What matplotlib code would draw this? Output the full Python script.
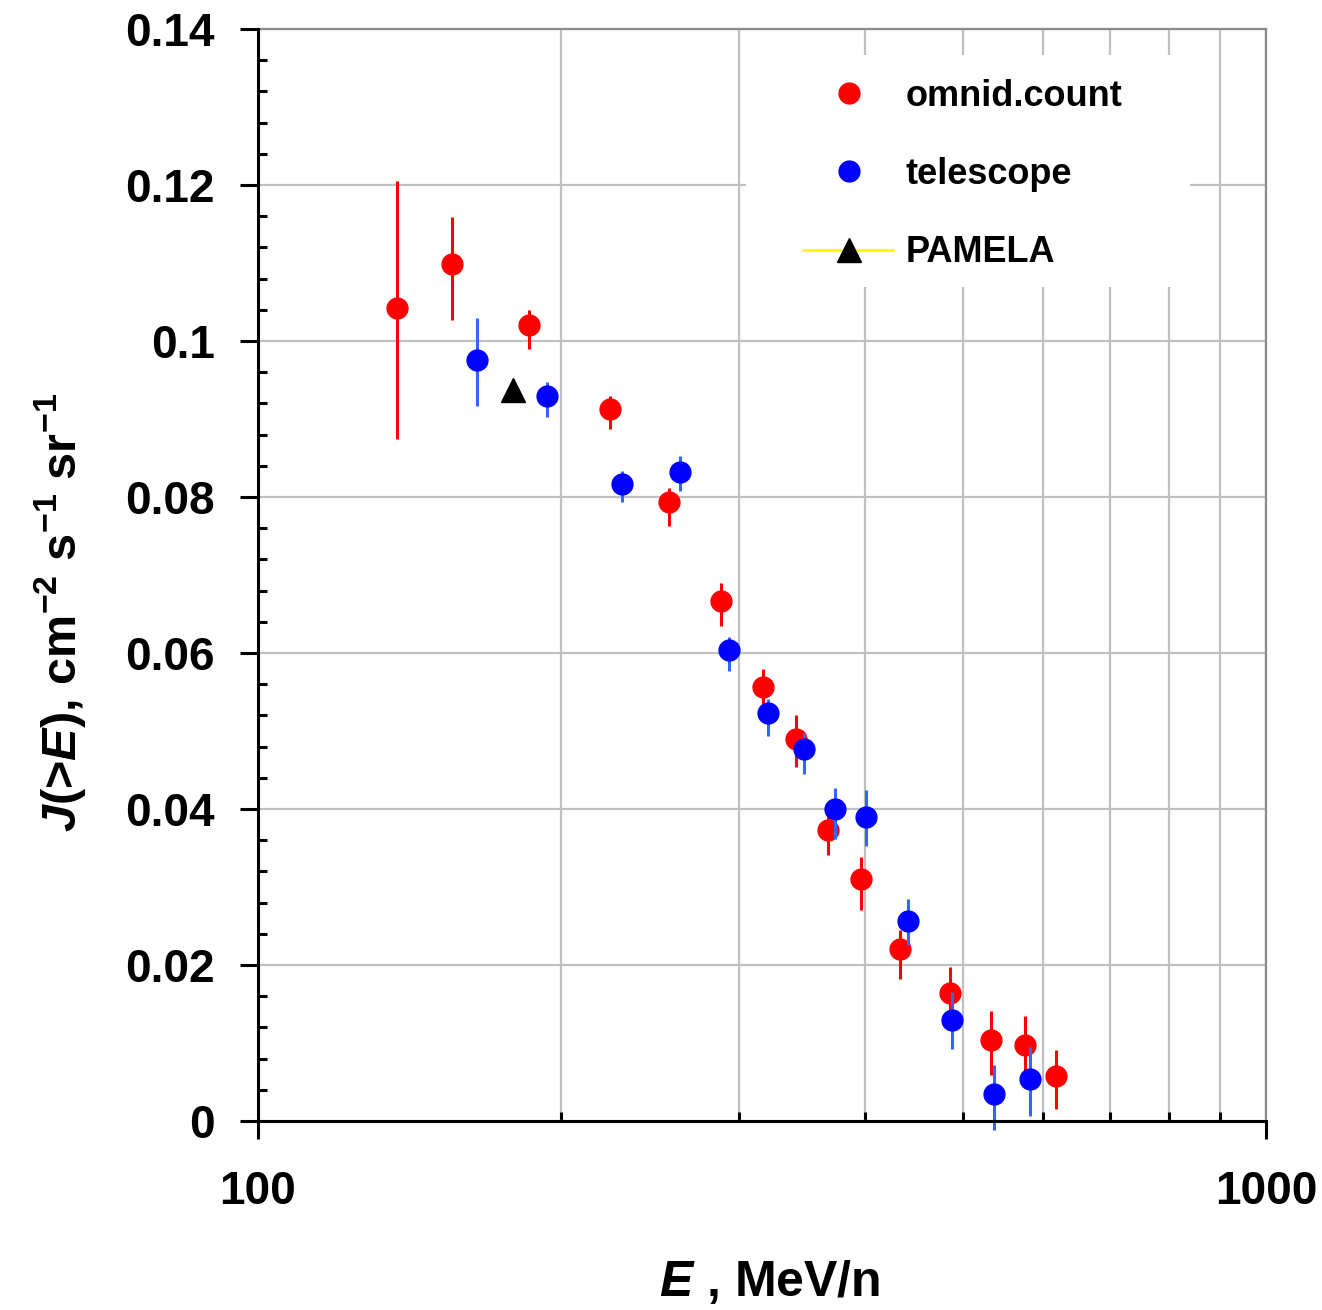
import matplotlib
matplotlib.use("Agg")
import matplotlib.pyplot as plt
from matplotlib.lines import Line2D
from matplotlib.patches import Rectangle
from matplotlib.ticker import FixedLocator, NullFormatter, FuncFormatter

plt.rcParams['font.family'] = ['Liberation Sans', 'DejaVu Sans']
plt.rcParams['font.weight'] = 'bold'
plt.rcParams['mathtext.fontset'] = 'custom'
plt.rcParams['mathtext.rm'] = 'Liberation Sans:bold'
plt.rcParams['mathtext.it'] = 'Liberation Sans:bold:italic'
plt.rcParams['mathtext.bf'] = 'Liberation Sans:bold'
plt.rcParams['mathtext.default'] = 'rm'

# omnid.count
E_omni = [137.3, 155.7, 185.9, 223.3, 255.7, 288.1, 316.6, 342.0, 367.2, 396.6,
          433.2, 485.1, 533.5, 576.2, 618.0]
J_omni = [0.1042, 0.1099, 0.1020, 0.0913, 0.0793, 0.0667, 0.0557, 0.0490, 0.0373,
          0.0310, 0.0220, 0.0164, 0.0104, 0.0097, 0.0058]
err_omni_lo = [0.0168, 0.0072, 0.0030, 0.0026, 0.0030, 0.0033, 0.0022, 0.0036, 0.0032,
               0.0039, 0.0038, 0.0034, 0.0045, 0.0037, 0.0043]
err_omni_hi = [0.0163, 0.0060, 0.0020, 0.0017, 0.0019, 0.0023, 0.0023, 0.0031, 0.0032,
               0.0028, 0.0025, 0.0034, 0.0037, 0.0038, 0.0033]

# telescope
E_tel = [165.0, 193.7, 229.8, 261.9, 293.2, 320.5, 347.9, 373.7, 401.2, 441.1, 487.7,
         536.3, 582.4]
J_tel = [0.0976, 0.0929, 0.0816, 0.0832, 0.0604, 0.0523, 0.0477, 0.0400, 0.0390,
         0.0257, 0.0130, 0.0035, 0.0054]
err_tel_lo = [0.0059, 0.0026, 0.0022, 0.0025, 0.0027, 0.0029, 0.0032, 0.0039, 0.0038,
              0.0032, 0.0038, 0.0047, 0.0048]
err_tel_hi = [0.0053, 0.0018, 0.0017, 0.0021, 0.0016, 0.0018, 0.0020, 0.0027, 0.0034,
              0.0028, 0.0035, 0.0037, 0.0041]

# PAMELA
E_pam = [179.2]
J_pam = [0.0937]

fig = plt.figure(figsize=(13.22, 13.10), dpi=100)
ax = fig.add_axes([0.195, 0.1443, 0.763, 0.8336])

ax.errorbar(E_omni, J_omni, yerr=[err_omni_lo, err_omni_hi], fmt='o', color='#ff0000',
            ecolor='#ff0000', elinewidth=2.2, capsize=0, markersize=15,
            zorder=3, clip_on=False)
ax.errorbar(E_tel, J_tel, yerr=[err_tel_lo, err_tel_hi], fmt='o', color='#0000ff',
            ecolor='#3366ff', elinewidth=2.2, capsize=0, markersize=15,
            zorder=4, clip_on=False)
ax.plot(E_pam, J_pam, color='#ffff00', linewidth=2.2, marker='^', markersize=17,
        markerfacecolor='black', markeredgecolor='black', zorder=5)

ax.set_xscale('log')
ax.set_xlim(100, 1000)
ax.set_ylim(0, 0.14)

ax.xaxis.set_major_locator(FixedLocator([100, 1000]))
ax.xaxis.set_minor_locator(FixedLocator([200, 300, 400, 500, 600, 700, 800, 900]))
ax.xaxis.set_major_formatter(FuncFormatter(lambda v, p: '%d' % v))
ax.xaxis.set_minor_formatter(NullFormatter())
ax.yaxis.set_major_locator(FixedLocator([0, 0.02, 0.04, 0.06, 0.08, 0.10, 0.12, 0.14]))
ax.yaxis.set_minor_locator(FixedLocator([i * 0.004 for i in range(36)]))
ax.yaxis.set_major_formatter(FuncFormatter(lambda v, p: '%g' % round(v, 3)))

ax.tick_params(which='major', direction='out', length=13, width=2.2, labelsize=33, pad=18)
ax.tick_params(which='minor', direction='in', length=6.5, width=2.2)
ax.tick_params(axis='x', which='major', pad=22)
ax.tick_params(top=False, right=False, which='both')

ax.grid(True, which='major', axis='y', color='#c0c0c0', linewidth=1.6)
ax.grid(True, which='both', axis='x', color='#c0c0c0', linewidth=1.6)
ax.set_axisbelow(True)

for s in ['top', 'right']:
    ax.spines[s].set_color('#8c8c8c')
    ax.spines[s].set_linewidth(1.6)
for s in ['left', 'bottom']:
    ax.spines[s].set_linewidth(2.2)
    ax.spines[s].set_zorder(6)

ax.set_xlabel(r'$\mathit{E}$ , MeV/n', fontsize=36, fontweight='bold')
ax.xaxis.set_label_coords(0.507, -0.1255)
ax.set_ylabel(r'$\mathit{J}$(>$\mathit{E}$), cm$^{-2}$ s$^{-1}$ sr$^{-1}$', fontsize=35,
              fontweight='bold')
ax.yaxis.set_label_coords(-0.168, 0.466)

# white box behind the legend, hiding the grid
ax.add_patch(Rectangle((0.4836, 0.7637), 0.4401, 0.2125, transform=ax.transAxes,
                       facecolor='white', edgecolor='none', zorder=1))

handles = [
    Line2D([], [], linestyle='none', marker='o', markersize=15, color='#ff0000'),
    Line2D([], [], linestyle='none', marker='o', markersize=15, color='#0000ff'),
    Line2D([], [], color='#ffff00', linewidth=2.2, marker='^', markersize=17,
           markerfacecolor='black', markeredgecolor='black'),
]
ax.legend(handles, ['omnid.count', 'telescope', 'PAMELA'], loc='upper left',
          bbox_to_anchor=(0.524, 0.971), fontsize=26, frameon=False, borderpad=0,
          handlelength=2.45, handletextpad=0.35, labelspacing=1.2)

fig.savefig('out.png', dpi=100)
